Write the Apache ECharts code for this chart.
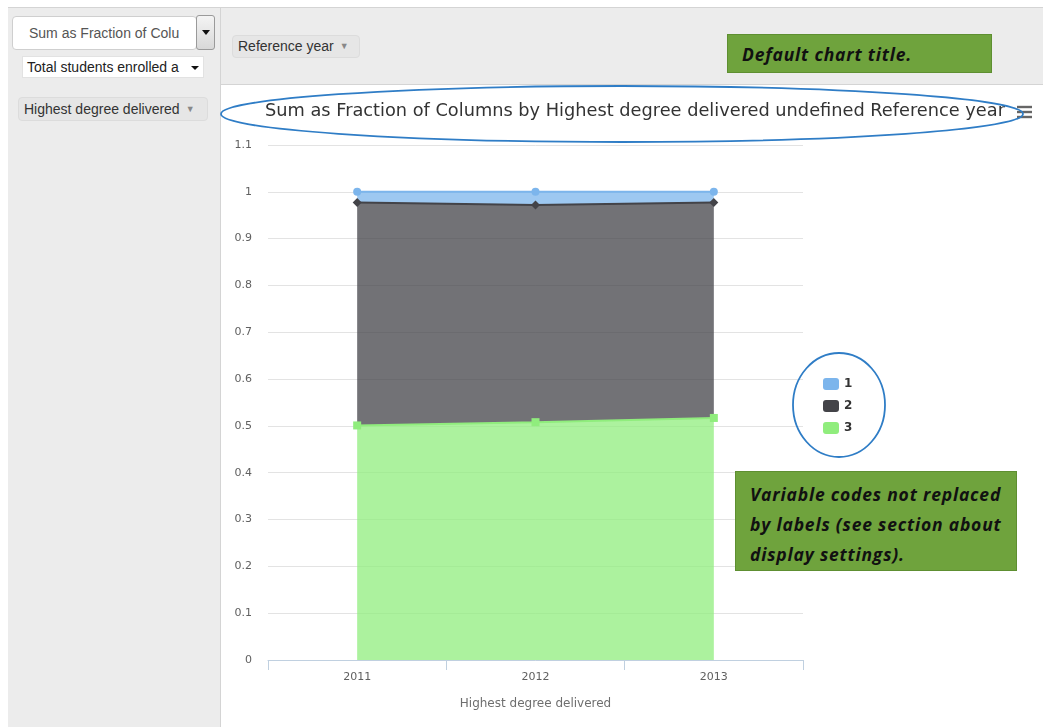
<!DOCTYPE html>
<html>
<head>
<meta charset="utf-8">
<script src="https://cdn.jsdelivr.net/npm/echarts@6/dist/echarts.min.js"></script>
<style>
  html, body { margin: 0; padding: 0; width: 1050px; height: 727px; overflow: hidden; background: #fff; font-family: "Liberation Sans", Arial, sans-serif; }
  .abs { position: absolute; box-sizing: border-box; }
  #topband { left: 8px; top: 7px; width: 1035px; height: 78px; background: #ececec; border-top: 1px solid #d4d4d4; border-bottom: 1px solid #d4d4d4; }
  #leftcol { left: 8px; top: 84px; width: 213px; height: 643px; background: #ececec; border-right: 1px solid #d4d4d4; }
  #vdiv { left: 220px; top: 8px; width: 1px; height: 77px; background: #d4d4d4; }
  #agg { left: 12px; top: 16px; width: 185px; height: 34px; background: #fff; border: 1px solid #cfcfcf; border-radius: 4px; color: #555; font-size: 14px; line-height: 32px; padding-left: 16px; white-space: nowrap; overflow: hidden; }
  #aggbtn { left: 196px; top: 15px; width: 19px; height: 35px; background: linear-gradient(#f4f4f4, #d8d8d8); border: 1px solid #9a9a9a; border-radius: 3px; }
  #aggbtn:after { content: ""; position: absolute; left: 5px; top: 14px; border-left: 4px solid transparent; border-right: 4px solid transparent; border-top: 5px solid #111; }
  #valsel { left: 22px; top: 56px; width: 182px; height: 22px; background: #fff; border: 1px solid #e2e2e2; color: #222; font-size: 14px; line-height: 20px; padding-left: 4px; white-space: nowrap; }
  #valsel .arr { position: absolute; left: 168px; top: 9px; border-left: 4px solid transparent; border-right: 4px solid transparent; border-top: 4px solid #111; }
  .pill { background: #e6e6e6; border: 1px solid #dcdcdc; border-radius: 4px; color: #333; font-size: 14px; padding-left: 5px; white-space: nowrap; }
  .pill .tri { color: #888; font-size: 9px; margin-left: 6px; vertical-align: 2px; }
  #refyear { left: 232px; top: 35px; width: 128px; height: 23px; line-height: 21px; }
  #hdeg { left: 18px; top: 97px; width: 190px; height: 24px; line-height: 22px; }
  #chart { left: 0; top: 0; width: 1050px; height: 727px; }
  .callout { background: #6fa33d; border: 1px solid #5e8f31; color: #111; font-family: "Open Sans", Lato, sans-serif; font-style: italic; font-weight: bold; font-size: 17.5px; letter-spacing: 0.8px; z-index: 5; white-space: nowrap; }
  #c1 { left: 727px; top: 34px; width: 265px; height: 39px; line-height: 39px; padding-left: 14px; }
  #c2 { left: 735px; top: 471px; width: 282px; height: 100px; line-height: 30px; padding: 7px 0 0 14px; }
  #ov { position: absolute; left: 0; top: 0; z-index: 6; pointer-events: none; }
</style>
</head>
<body>
<div id="topband" class="abs"></div>
<div id="leftcol" class="abs"></div>
<div id="vdiv" class="abs"></div>
<div id="agg" class="abs">Sum as Fraction of Colu</div>
<div id="aggbtn" class="abs"></div>
<div id="valsel" class="abs">Total students enrolled a<span class="arr"></span></div>
<div id="refyear" class="abs pill">Reference year<span class="tri">&#9660;</span></div>
<div id="hdeg" class="abs pill">Highest degree delivered<span class="tri">&#9660;</span></div>
<div id="chart" class="abs"></div>
<div id="c1" class="abs callout">Default chart title.</div>
<div id="c2" class="abs callout">Variable codes not replaced<br>by labels (see section about<br>display settings).</div>
<svg id="ov" width="1050" height="727">
  <g stroke="#666" stroke-width="2.4">
    <line x1="1017" y1="107" x2="1032" y2="107"/>
    <line x1="1017" y1="112" x2="1032" y2="112"/>
    <line x1="1017" y1="117" x2="1032" y2="117"/>
  </g>
  <ellipse cx="622" cy="114" rx="401" ry="28" fill="none" stroke="#2f7dc6" stroke-width="1.8"/>
  <ellipse cx="839" cy="405" rx="46" ry="52" fill="none" stroke="#2f7dc6" stroke-width="1.8"/>
</svg>
<script>
const categories = ['2011', '2012', '2013'];
const seriesNames = ['1', '2', '3'];
const values1 = [0.023, 0.028, 0.023];
const values2 = [0.476, 0.464, 0.460];
const values3 = [0.501, 0.508, 0.517];
const chartTitle = 'Sum as Fraction of Columns by Highest degree delivered undefined Reference year';
const xAxisTitle = 'Highest degree delivered';

const colors = { '1': '#7cb5ec', '2': '#434348', '3': '#90ed7d' };
const symbols = { '1': 'circle', '2': 'diamond', '3': 'rect' };

function mkSeries(name, data) {
  return {
    name: name, type: 'line', stack: 'total', data: data,
    symbol: symbols[name], symbolSize: name === '2' ? 9 : 8, showSymbol: true,
    lineStyle: { width: 2, color: colors[name] },
    itemStyle: { color: colors[name] },
    areaStyle: { color: colors[name], opacity: 0.75 },
    emphasis: { disabled: true }
  };
}

const chart = echarts.init(document.getElementById('chart'), null, { renderer: 'canvas' });
chart.setOption({
  animation: false,
  backgroundColor: 'transparent',
  textStyle: { fontFamily: '"DejaVu Sans", Verdana, sans-serif' },
  title: {
    text: chartTitle, left: 260, top: 97,
    textStyle: { fontSize: 17.75, fontWeight: 'normal', color: '#333', fontFamily: '"DejaVu Sans", Verdana, sans-serif' }
  },
  legend: {
    data: seriesNames, orient: 'vertical', left: 823, top: 378, padding: 0,
    icon: 'roundRect', itemWidth: 16, itemHeight: 12, itemGap: 10,
    textStyle: { fontSize: 12, fontWeight: 'bold', color: '#333' }
  },
  grid: { left: 268, right: 247, top: 145, bottom: 67, containLabel: false },
  xAxis: {
    type: 'category', data: categories, boundaryGap: true,
    name: xAxisTitle, nameLocation: 'middle', nameGap: 38,
    nameTextStyle: { fontSize: 12, color: '#6e6e6e' },
    axisLine: { lineStyle: { color: '#c0d0e0', width: 1 } },
    axisTick: { show: true, length: 10, lineStyle: { color: '#c0d0e0' } },
    axisLabel: { fontSize: 11, color: '#606060', margin: 12 },
    splitLine: { show: false }
  },
  yAxis: {
    type: 'value', min: 0, max: 1.1, interval: 0.1,
    axisLine: { show: false }, axisTick: { show: false },
    axisLabel: { fontSize: 11, color: '#606060', margin: 16,
      formatter: function (v) { return String(Math.round(v * 10) / 10); } },
    splitLine: { lineStyle: { color: '#e3e3e3', width: 1 } }
  },
  series: [mkSeries('3', values3), mkSeries('2', values2), mkSeries('1', values1)]
});
</script>
</body>
</html>
